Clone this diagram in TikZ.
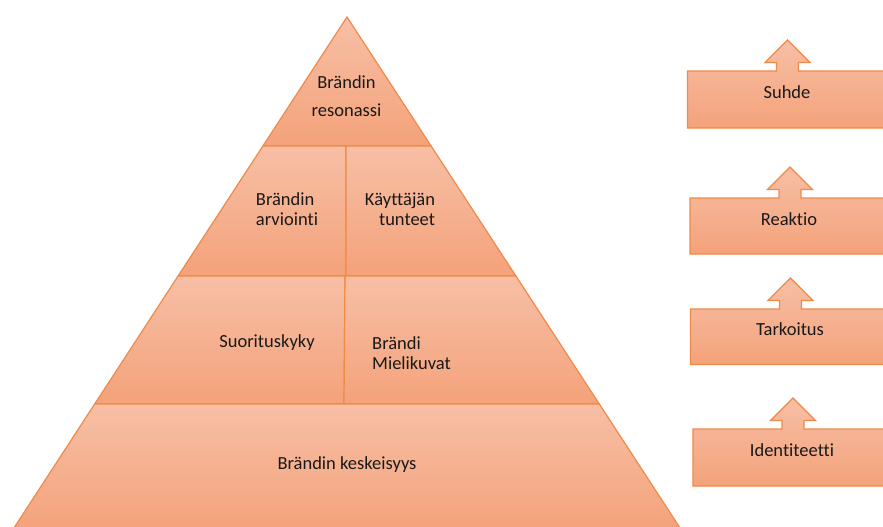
\documentclass[tikz,border=0pt]{standalone}
\usepackage{fontspec}
\setmainfont{Carlito}[Ligatures=NoCommon]
\definecolor{tierlight}{RGB}{247,191,166}
\definecolor{tierdark}{RGB}{244,162,122}
\definecolor{tieredge}{RGB}{240,138,72}
\definecolor{labeltext}{RGB}{25,25,25}
\tikzset{
  tier/.style={draw=tieredge, line width=1.2pt, line join=miter,
    top color=tierlight, bottom color=tierdark},
  caption/.style={text=labeltext, inner sep=0pt,
    font=\fontsize{18.5}{19.5}\selectfont},
}
% up-arrow callout: box from (#1,#2) of height #3, arrow centred 100 to the right
\newcommand\arrowbox[3]{%
  \path[tier] (#1,#2+#3) -- (#1,#2) -- (#1+89,#2) -- (#1+89,#2-8.5)
    -- (#1+77.5,#2-8.5) -- (#1+100,#2-31) -- (#1+122.5,#2-8.5)
    -- (#1+111,#2-8.5) -- (#1+111,#2) -- (#1+205,#2) -- (#1+205,#2+#3) -- cycle;}
\begin{document}
\begin{tikzpicture}[x=1pt,y=-1pt]
  \clip (0,0) rectangle (883,527);
  \fill[white] (0,0) rectangle (883,527);

  % pyramid: apex, then tier boundaries
  \coordinate (apex) at (347,17);
  \path[tier] (apex) -- (431.1,146) -- (262.9,146) -- cycle;
  \path[tier] (262.9,146) -- (346,146) -- (346,276) -- (178.1,276) -- cycle;
  \path[tier] (346,146) -- (431.1,146) -- (515.9,276) -- (346,276) -- cycle;
  \path[tier] (178.1,276) -- (345,276) -- (344,404) -- (94.7,404) -- cycle;
  \path[tier] (345,276) -- (515.9,276) -- (599.3,404) -- (344,404) -- cycle;
  \path[tier] (94.7,404) -- (599.3,404) -- (682.7,532) -- (11.3,532) -- cycle;

  \node[caption, align=center] (reso) at (346.5,96)
    {Brändin\\[8.5pt]resonassi};
  \node[caption, align=left] (arvio) at (287,209) {Brändin\\arviointi};
  \node[caption, align=right] (tunteet) at (400,209) {Käyttäjän\\tunteet};
  \node[caption] (suoritus) at (267,343) {Suorituskyky};
  \node[caption, align=left, anchor=west] (mielikuvat) at (372,353)
    {Brändi\\Mielikuvat};
  \node[caption] (keskeisyys) at (347,465) {Brändin keskeisyys};

  % stages on the right
  \arrowbox{687.5}{71}{57}
  \arrowbox{690}{198}{56}
  \arrowbox{690.5}{309}{55.5}
  \arrowbox{693}{429}{57}
  \node[caption] (suhde) at (787,92) {Suhde};
  \node[caption] (reaktio) at (789,219) {Reaktio};
  \node[caption] (tarkoitus) at (790,329) {Tarkoitus};
  \node[caption] (identiteetti) at (792,450) {Identiteetti};
\end{tikzpicture}
\end{document}
